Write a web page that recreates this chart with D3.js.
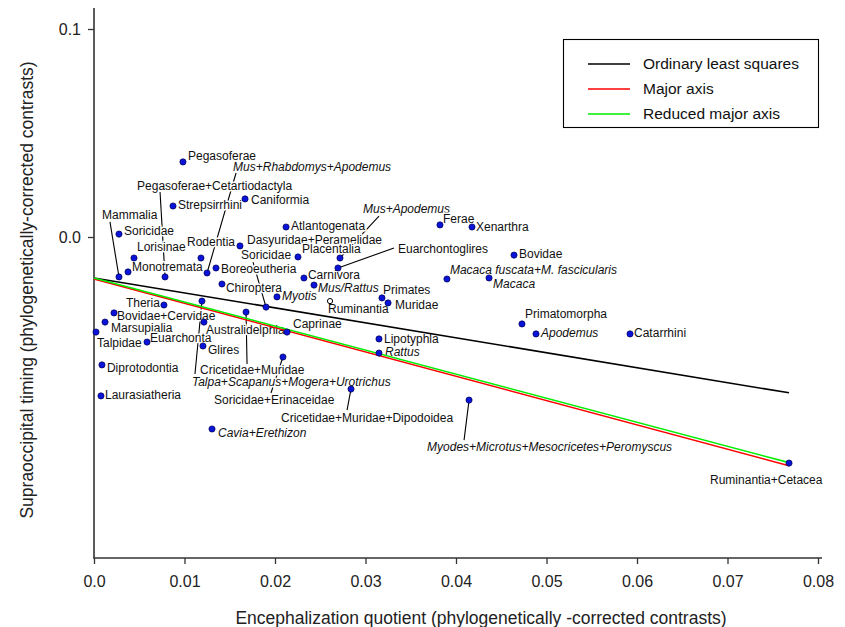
<!DOCTYPE html>
<html><head><meta charset="utf-8">
<script src="https://cdn.jsdelivr.net/npm/d3@7"></script>
<style>body{margin:0;background:#fff}svg{display:block}</style>
</head><body><svg id="c" width="845" height="627"></svg>
<script>
// ---- data ----
const names = ["Pegasoferae","Mus+Rhabdomys+Apodemus","Pegasoferae+Cetartiodactyla","Strepsirrhini","Caniformia","Mammalia","Soricidae","Lorisinae","Rodentia","Monotremata","Boreoeutheria","Chiroptera","Dasyuridae+Peramelidae","Soricidae","Atlantogenata","Placentalia","Mus+Apodemus","Euarchontoglires","Carnivora","Mus/Rattus","Primates","Muridae","Myotis","Ruminantia","Theria","Talpa+Scapanus+Mogera+Urotrichus","Bovidae+Cervidae","Marsupialia","Talpidae","Euarchonta","Australidelphia","Glires","Cricetidae+Muridae","Soricidae+Erinaceidae","Caprinae","Lipotyphla","Rattus","Cricetidae+Muridae+Dipodoidea","Cavia+Erethizon","Diprotodontia","Laurasiatheria","Ferae","Xenarthra","Bovidae","Macaca fuscata+M. fascicularis","Macaca","Primatomorpha","Apodemus","Catarrhini","Myodes+Microtus+Mesocricetes+Peromyscus","Ruminantia+Cetacea"];
const eqContrast = [0.00983,0.01249,0.00785,0.00873,0.01669,0.00276,0.00276,0.00442,0.01182,0.00376,0.01348,0.01414,0.01613,0.01901,0.02122,0.02254,0.02718,0.02696,0.0232,0.02431,0.03182,0.03249,0.02022,0.02608,0.00773,0.01193,0.00221,0.00122,0.00022,0.00586,0.01215,0.01204,0.0168,0.02088,0.02133,0.03149,0.03149,0.0284,0.01304,0.00088,0.00077,0.03823,0.04177,0.04641,0.039,0.04365,0.04729,0.04884,0.05923,0.04144,0.0768];
const soContrast = [0.0361,-0.0173,-0.0192,0.0149,0.0183,-0.0192,0.0014,-0.0101,-0.0101,-0.0168,-0.0149,-0.0226,-0.0043,-0.0337,0.0048,-0.0096,-0.0101,-0.0149,-0.0197,-0.0231,-0.0293,-0.0317,-0.0288,-0.0308,-0.0327,-0.0308,-0.0365,-0.0409,-0.0457,-0.0505,-0.0409,-0.0524,-0.0361,-0.0577,-0.0457,-0.049,-0.0558,-0.0731,-0.0923,-0.0615,-0.0764,0.0058,0.0048,-0.0087,-0.0202,-0.0197,-0.0418,-0.0466,-0.0466,-0.0784,-0.1087];
const italicNames = ["Mus+Rhabdomys+Apodemus","Mus+Apodemus","Mus/Rattus","Myotis","Talpa+Scapanus+Mogera+Urotrichus","Rattus","Cavia+Erethizon","Macaca fuscata+M. fascicularis","Macaca","Apodemus","Myodes+Microtus+Mesocricetes+Peromyscus"];
const openNames = ["Ruminantia"];
const fitNames = ["Ordinary least squares","Major axis","Reduced major axis"];
const fitIntercepts = [-0.0197,-0.0202,-0.0197];
const fitSlopes = [-0.719,-1.169,-1.156];
const xTicks = [0,0.01,0.02,0.03,0.04,0.05,0.06,0.07,0.08];
const xTickLabels = ["0.0","0.01","0.02","0.03","0.04","0.05","0.06","0.07","0.08"];
const yTicks = [0,0.1];
const yTickLabels = ["0.0","0.1"];

// ---- layout (pixels) ----
const fitColors = ["#000000","#ff0000","#00ee00"];
// label offsets relative to the dot: [dx, dy(center), anchor, leaderDx, leaderDy]
const labelLayout = [
 [5,-6],[26,-106,"start",29,-100],[-28,-91,"start",-5,-85],[5,-1],[6,1],[-17,-62,"start",-9,-55],[5,-3],[3,-11],[-14,-16],[4,-5],
 [5,1],[4,4],[7,-6],[-25,-52,"start",-13,-45],[5,-1],[4,-8],[23,-49,"start",39,-42],[60,-19,"start",56,-20],[4,-3],[4,3],
 [1,-8],[7,2],[5,-1],[-2,8],[-4,-2,"end"],[-10,81,"start",-7,73],[3,3],[6,6],[1,11],[3,-4],
 [2,8],[5,4],[-46,58,"start",1,52],[-69,43,"start",-12,36],[6,-8],[5,0],[6,-1],[-70,29,"start",-4,21],[6,4],[5,3],
 [4,-1],[3,-6],[4,0],[5,-1],[3,-9],[4,6],[3,-10],[5,-1],[4,-1],[-42,47,"start",-5,40],[-79,17]
];

const svg = d3.select("#c");
const x = d3.scaleLinear().domain([0,0.08]).range([94,818]);
const y = d3.scaleLinear().domain([0,0.1]).range([237,29]);
const axisColor = "#333";
const font = "'Liberation Sans', Arial, Helvetica, sans-serif";

// axes lines
svg.append("line").attr("x1",94).attr("x2",94).attr("y1",8).attr("y2",558).attr("stroke",axisColor).attr("stroke-width",1.6);
svg.append("line").attr("x1",93.2).attr("x2",822).attr("y1",558).attr("y2",558).attr("stroke",axisColor).attr("stroke-width",1.6);
const xa = svg.append("g").attr("transform","translate(0,558)")
  .call(d3.axisBottom(x).tickValues(xTicks).tickFormat((d,i)=>xTickLabels[i]).tickSize(6).tickPadding(12));
const ya = svg.append("g").attr("transform","translate(94,0)")
  .call(d3.axisLeft(y).tickValues(yTicks).tickFormat((d,i)=>yTickLabels[i]).tickSize(6).tickPadding(7));
[xa,ya].forEach(g=>{g.select(".domain").remove();g.selectAll("line").attr("stroke",axisColor).attr("stroke-width",1.3);
  g.selectAll("text").attr("font-family",font).attr("font-size",16).attr("fill","#222");});

svg.append("text").attr("x",481).attr("y",624).attr("text-anchor","middle").attr("font-family",font).attr("font-size",17.5).attr("fill","#222")
  .text("Encephalization quotient (phylogenetically -corrected contrasts)");
svg.append("text").attr("transform","translate(33,290) rotate(-90)").attr("text-anchor","middle").attr("font-family",font).attr("font-size",17.5).attr("fill","#222")
  .text("Supraoccipital timing (phylogenetically-corrected contrasts)");

const pts = names.map((n,i)=>({n, xv:eqContrast[i], yv:soContrast[i], L:labelLayout[i]}));

// leaders
const gL = svg.append("g");
pts.filter(p=>p.L.length>3).forEach(p=>{
  const px=x(p.xv), py=y(p.yv);
  gL.append("line").attr("x1",px+p.L[3]).attr("y1",py+p.L[4]).attr("x2",px).attr("y2",py).attr("stroke","#000").attr("stroke-width",1.1);
});
// labels
const gT = svg.append("g");
pts.forEach(p=>{
  const px=x(p.xv), py=y(p.yv);
  gT.append("text").attr("x",px+p.L[0]).attr("y",py+p.L[1]).attr("dy","0.35em")
    .attr("text-anchor",p.L[2]||"start").attr("font-family",font).attr("font-size",12).attr("fill","#111")
    .attr("font-style",italicNames.includes(p.n)?"italic":"normal")
    .attr("stroke","#fff").attr("stroke-width",3).attr("paint-order","stroke").attr("stroke-linejoin","round")
    .text(p.n);
});
// fit lines
const xMax = d3.max(eqContrast);
[0,1,2].forEach(i=>{
  svg.append("line").attr("x1",x(0)).attr("y1",y(fitIntercepts[i])).attr("x2",x(xMax)).attr("y2",y(fitIntercepts[i]+fitSlopes[i]*xMax))
    .attr("stroke",fitColors[i]).attr("stroke-width",1.6);
});
// dots
pts.forEach(p=>{
  const open = openNames.includes(p.n);
  svg.append("circle").attr("cx",x(p.xv)).attr("cy",y(p.yv)).attr("r",open?2.6:3.1)
    .attr("fill",open?"#fff":"#0a14d8").attr("stroke",open?"#000":"#000050").attr("stroke-width",open?1:0.7);
});
// legend
const lg = svg.append("g");
lg.append("rect").attr("x",563.5).attr("y",39.5).attr("width",255).attr("height",88).attr("fill","#fff").attr("stroke","#000").attr("stroke-width",1.1);
fitNames.forEach((n,i)=>{
  const yy = 64 + i*25;
  lg.append("line").attr("x1",588).attr("x2",630).attr("y1",yy).attr("y2",yy).attr("stroke",fitColors[i]).attr("stroke-width",1.6);
  lg.append("text").attr("x",643).attr("y",yy).attr("dy","0.35em").attr("font-family",font).attr("font-size",15.5).attr("fill","#111").text(n);
});
</script></body></html>
